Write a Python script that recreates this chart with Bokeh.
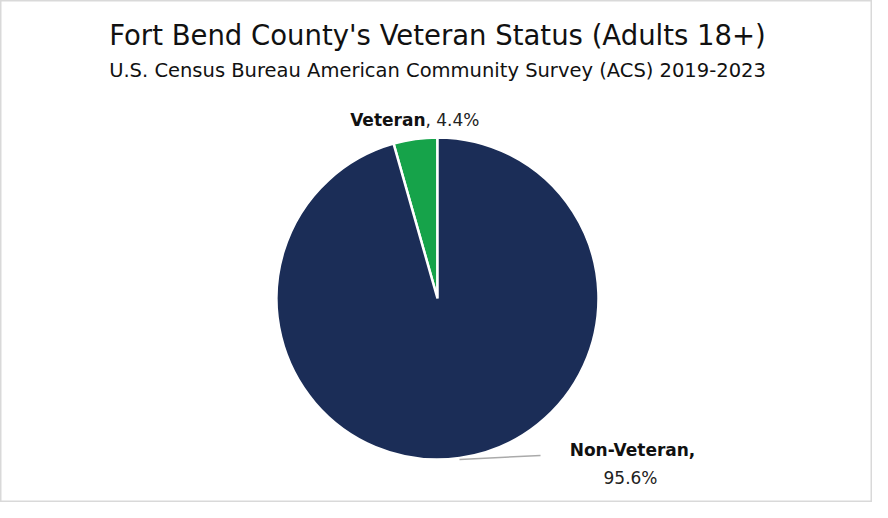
from math import pi
from bokeh.plotting import figure
from bokeh.models import Range1d
from bokeh.core.properties import value
from bokeh.embed import file_html
from bokeh.resources import INLINE

title = "Fort Bend County's Veteran Status (Adults 18+)"
subtitle = "U.S. Census Bureau American Community Survey (ACS) 2019-2023"
categories = ["Veteran", "Non-Veteran"]
shares = [4.4, 95.6]
colors = ["#16a34a", "#1b2d57"]

W, H = 872, 502
p = figure(width=W, height=H, output_backend="svg", toolbar_location=None,
           x_range=Range1d(0, W), y_range=Range1d(0, H), min_border=0)
p.axis.visible = False
p.grid.visible = False
p.outline_line_color = "#d9d9d9"
p.outline_line_width = 2
p.background_fill_color = "white"

cx, cy, r = 437, 204, 161
start = pi / 2
starts, ends = [], []
a = start
for s in shares:
    starts.append(a)
    a = a + s / 100 * 2 * pi
    ends.append(a)
p.wedge(x=[cx] * 2, y=[cy] * 2, radius=r, start_angle=starts, end_angle=ends,
        fill_color=colors, line_color="white", line_width=2.5)

font = value("DejaVu Sans")
p.text(x=[437], y=[468], text=[title], text_font=font, text_font_size="27.5px",
       text_align="center", text_baseline="middle", text_color="#111111")
p.text(x=[437], y=[432], text=[subtitle], text_font=font, text_font_size="19.5px",
       text_align="center", text_baseline="middle", text_color="#111111")

# Veteran label
p.text(x=[425], y=[383], text=[categories[0]], text_font=font, text_font_size="17px",
       text_font_style="bold", text_align="right", text_baseline="middle", text_color="#111111")
p.text(x=[425], y=[383], text=[f", {shares[0]}%"], text_font=font, text_font_size="17px",
       text_align="left", text_baseline="middle", text_color="#222222")

# Non-Veteran label
p.text(x=[632], y=[53], text=[categories[1] + ","], text_font=font, text_font_size="17px",
       text_font_style="bold", text_align="center", text_baseline="middle", text_color="#111111")
p.text(x=[630], y=[25], text=[f"{shares[1]}%"], text_font=font, text_font_size="17px",
       text_align="center", text_baseline="middle", text_color="#222222")
p.line(x=[459, 540], y=[43, 47], line_color="#aaaaaa", line_width=1.5)

open("out.html", "w").write(file_html(p, INLINE))
